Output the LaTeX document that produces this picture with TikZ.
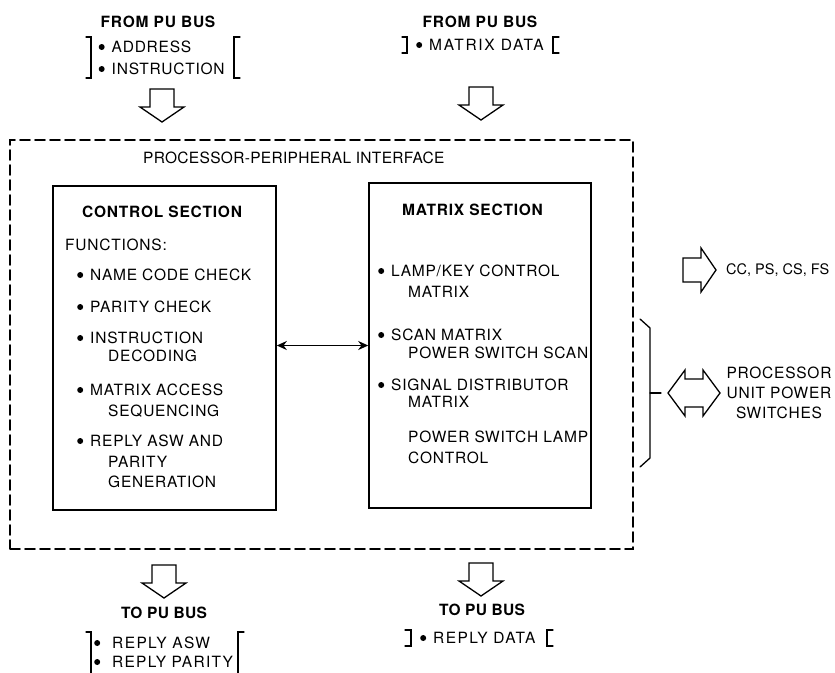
\documentclass[tikz,border=0pt]{standalone}
\usepackage{fontspec}
\setmainfont{TeX Gyre Heros}[LetterSpace=5]
\usetikzlibrary{arrows.meta}
\newcommand\bul{\tikz[baseline=0pt]\fill (0pt,5.5pt) circle (3pt);\hspace{7pt}}

\begin{document}
\begin{tikzpicture}[x=1pt,y=-1pt,>={Stealth[length=10pt,width=9pt]},line cap=round,
		txt/.style={inner sep=0pt,text height=11pt,text depth=0pt,font=\fontsize{15.5}{20}\selectfont},
		hd/.style={txt,font=\fontsize{15.5}{20}\selectfont\bfseries},
		box/.style={draw,line width=1.6pt,inner sep=0pt},
		hollow/.style={draw,line width=1.3pt,line join=miter},
		brk/.style={line width=1.3pt},
		pics/blkarrow/.style={code={\draw[hollow] (0,-12) -- (18,-12) -- (18,-22) -- (33,0) -- (18,22) -- (18,12) -- (0,12) -- cycle;}}]
		\useasboundingbox (0,0) rectangle (835,672);
		%\draw[help lines,step=50] (0,0) grid (835,672);
		\node[box,dash pattern=on 10pt off 5pt,minimum width=623,minimum height=409] (ppi) at (321.5,344.5) {};
		\node[txt,anchor=west] (ppilbl) at (143,158) {\addfontfeature{LetterSpace=2}PROCESSOR-PERIPHERAL INTERFACE};
		\node[box,minimum width=223,minimum height=324] (ctrl) at (164.5,348) {};
		\node[box,minimum width=222,minimum height=325] (mtrx) at (480,345.5) {};
		\draw[<->,line width=1.6pt] (ctrl.east |- mtrx.west) -- (mtrx.west);
		% control section
		\node[hd,anchor=west] (ctitle) at (82,212) {CONTROL SECTION};
		\node[txt,anchor=west] (cfun) at (65,245) {FUNCTIONS:};
		\foreach \y/\t [count=\i] in {275/NAME CODE CHECK,307/PARITY CHECK,338/INSTRUCTION,390/MATRIX ACCESS,441/REPLY ASW AND}
		\node[txt,anchor=west] (cb\i) at (77,\y) {\bul\t};
		\foreach \y/\t [count=\i] in {356/DECODING,411/SEQUENCING,462/PARITY,482/GENERATION}
		\node[txt,anchor=west] (cc\i) at (108,\y) {\t};
		% matrix section
		\node[hd,anchor=west] (mtitle) at (402,210) {MATRIX SECTION};
		\foreach \y/\t [count=\i] in {271/{LAMP/KEY CONTROL},335/SCAN MATRIX,385/SIGNAL DISTRIBUTOR}
		\node[txt,anchor=west] (mb\i) at (378,\y) {\bul\t};
		\foreach \y/\t [count=\i] in {292/MATRIX,353/POWER SWITCH SCAN,402/MATRIX,437/POWER SWITCH LAMP,458/CONTROL}
		\node[txt,anchor=west] (mc\i) at (408,\y) {\t};
		% bus side, top
		\node[hd] (from1) at (158,22) {FROM PU BUS};
		\node[txt,anchor=west] (addr) at (98.5,47) {\bul ADDRESS};
		\node[txt,anchor=west] (instr) at (98.5,69) {\bul INSTRUCTION};
		\draw[brk] (86,37) -- (91,37) -- (91,78) -- (86,78);
		\draw[brk] (240,37) -- (234,37) -- (234,78) -- (240,78);
		\pic[rotate=-90] at (162,89) {blkarrow};
		\node[hd] (from2) at (480,22) {FROM PU BUS};
		\node[txt,anchor=west] (mdata) at (416,45) {\bul\addfontfeature{LetterSpace=11}MATRIX DATA};
		\draw[brk] (402,37) -- (407,37) -- (407,53) -- (402,53);
		\draw[brk] (559,37) -- (553,37) -- (553,53) -- (559,53);
		\pic[rotate=-90] at (481,87) {blkarrow};
		% bus side, bottom
		\pic[rotate=-90] at (164,565) {blkarrow};
		\node[hd] (to1) at (164,613) {\addfontfeature{LetterSpace=2}TO PU BUS};
		\node[txt,anchor=west] (rasw) at (94,643) {\bul\hspace{5pt}\addfontfeature{LetterSpace=9}REPLY ASW};
		\node[txt,anchor=west] (rpar) at (94,662) {\bul\hspace{5pt}\addfontfeature{LetterSpace=8}REPLY PARITY};
		\draw[brk] (86,632) -- (91,632) -- (91,676);
		\draw[brk] (244,632) -- (238,632) -- (238,676);
		\pic[rotate=-90] at (481,563) {blkarrow};
		\node[hd] (to2) at (482,610) {\addfontfeature{LetterSpace=2}TO PU BUS};
		\node[txt,anchor=west] (rdata) at (420,638) {\bul\addfontfeature{LetterSpace=9}REPLY DATA};
		\draw[brk] (405,630) -- (411,630) -- (411,646) -- (405,646);
		\draw[brk] (553,630) -- (547,630) -- (547,646) -- (553,646);
		% processor unit side
		\pic at (683,270) {blkarrow};
		\node[txt,anchor=west,font=\fontsize{14.5}{20}\selectfont] (ccps) at (726,269) {\addfontfeature{LetterSpace=0}CC, PS, CS, FS};
		\draw[brk] (640,319) -- (650,328) -- (650,458) -- (640,467);
		\draw[brk] (650,393) -- (661,393);
		\draw[hollow] (668,393) -- (685,370) -- (685,379) -- (703,379) -- (703,370) -- (720,393)
		-- (703,416) -- (703,407) -- (685,407) -- (685,416) -- cycle;
		\foreach \y/\t [count=\i] in {373/PROCESSOR,393/UNIT POWER,413/SWITCHES}
		\node[txt] (pu\i) at (779,\y) {\t};
\end{tikzpicture}
\end{document}
